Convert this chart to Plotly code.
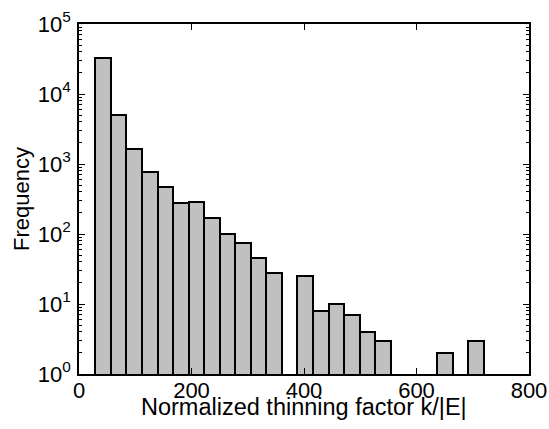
import numpy as np
import plotly.graph_objects as go

# Histogram: 25 bins between ~29 and ~720
bin_start = 29.0
bin_end = 720.0
n_bins = 25
counts = [33000, 5000, 1650, 780, 475, 277, 290, 170, 100, 75,
          46, 28, None, 25, 8, 10, 7, 4, 3, None,
          None, None, 2, None, 3]
x_ticks = [0, 200, 400, 600, 800]
y_tickvals = [1, 10, 100, 1000, 10000, 100000]
y_ticktext = ["10<sup>0</sup>", "10<sup>1</sup>", "10<sup>2</sup>",
              "10<sup>3</sup>", "10<sup>4</sup>", "10<sup>5</sup>"]

width = (bin_end - bin_start) / n_bins
centers = [bin_start + width * (i + 0.5) for i in range(n_bins)]

minor_vals = [m * 10 ** k for k in range(0, 5) for m in range(2, 10)]

fig = go.Figure()
fig.add_trace(go.Bar(
    x=centers, y=counts, width=[width] * n_bins,
    marker=dict(color="#c0c0c0", line=dict(color="black", width=2)),
    showlegend=False,
))

font = "Liberation Sans, Arial, sans-serif"
fig.update_layout(
    width=549, height=429,
    margin=dict(l=79, r=20, t=24, b=55, autoexpand=False),
    paper_bgcolor="white", plot_bgcolor="white",
    font=dict(family=font, color="black", size=22),
    bargap=0,
    xaxis=dict(
        range=[0, 800], tickvals=x_ticks, ticktext=[str(v) for v in x_ticks],
        ticks="inside", ticklen=6, tickwidth=1, tickcolor="black",
        showline=True, linecolor="black", linewidth=1.5, mirror="allticks",
        showgrid=False, zeroline=False, automargin=False,
        tickfont=dict(size=22), ticklabelstandoff=-4,
    ),
    yaxis=dict(
        type="log", range=[0, 5], tickvals=y_tickvals, ticktext=y_ticktext,
        ticks="inside", ticklen=6, tickwidth=1, tickcolor="black",
        showline=True, linecolor="black", linewidth=1.5, mirror="allticks",
        showgrid=False, zeroline=False, automargin=False,
        tickfont=dict(size=22), ticklabelstandoff=2,
        minor=dict(tickvals=minor_vals, ticks="inside", ticklen=3, tickwidth=1,
                   tickcolor="black", showgrid=False),
        title=dict(text="Frequency", font=dict(size=22), standoff=2),
    ),
    annotations=[dict(
        text="Normalized thinning factor k/|E|", xref="paper", yref="paper",
        x=0.5, y=-0.05, xanchor="center", yanchor="top", showarrow=False,
        font=dict(size=23.5, family=font, color="black"),
    )],
)

fig.write_html("out.html", config={"displayModeBar": False},
               post_script="document.body.style.margin='0';")
